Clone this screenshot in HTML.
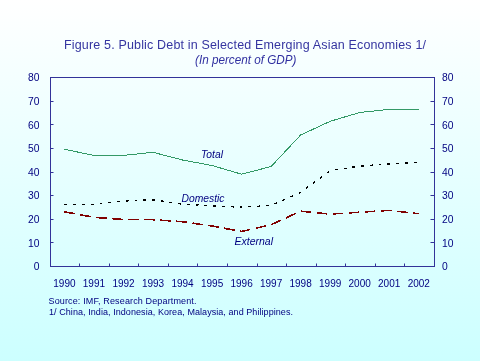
<!DOCTYPE html>
<html><head><meta charset="utf-8"><style>
html,body{margin:0;padding:0;width:480px;height:361px;overflow:hidden}
body{background:linear-gradient(to bottom,#ffffff 0%,#ccffff 100%)}
svg{display:block;position:absolute;left:0;top:0;will-change:transform}
text{font-family:"Liberation Sans",sans-serif;fill:#000080}
.yl{font-size:10.3px}
.xl{font-size:10px}
.lab{font-size:11px;font-style:italic}
.ti{font-size:12.5px;fill:#3535a0}
.sub{font-size:12px;font-style:italic;fill:#3030a0}
.fn{font-size:9px}
</style></head><body>
<svg width="480" height="361" viewBox="0 0 480 361">
<rect x="50.5" y="77.5" width="384.0" height="189.0" fill="none" stroke="#333399" stroke-width="1"/>
<path d="M50.5,242.5h3M434.5,242.5h-4M50.5,219.5h3M434.5,219.5h-4M50.5,195.5h3M434.5,195.5h-4M50.5,172.5h3M434.5,172.5h-4M50.5,148.5h3M434.5,148.5h-4M50.5,124.5h3M434.5,124.5h-4M50.5,101.5h3M434.5,101.5h-4M79.5,266.5v-3M109.5,266.5v-3M138.5,266.5v-3M168.5,266.5v-3M197.5,266.5v-3M227.5,266.5v-3M257.5,266.5v-3M286.5,266.5v-3M316.5,266.5v-3M345.5,266.5v-3M375.5,266.5v-3M404.5,266.5v-3" stroke="#333399" stroke-width="1" fill="none"/>
<text x="39.5" y="270.3" text-anchor="end" class="yl">0</text>
<text x="442" y="270.3" class="yl">0</text>
<text x="39.5" y="246.7" text-anchor="end" class="yl">10</text>
<text x="442" y="246.7" class="yl">10</text>
<text x="39.5" y="223.1" text-anchor="end" class="yl">20</text>
<text x="442" y="223.1" class="yl">20</text>
<text x="39.5" y="199.4" text-anchor="end" class="yl">30</text>
<text x="442" y="199.4" class="yl">30</text>
<text x="39.5" y="175.8" text-anchor="end" class="yl">40</text>
<text x="442" y="175.8" class="yl">40</text>
<text x="39.5" y="152.2" text-anchor="end" class="yl">50</text>
<text x="442" y="152.2" class="yl">50</text>
<text x="39.5" y="128.6" text-anchor="end" class="yl">60</text>
<text x="442" y="128.6" class="yl">60</text>
<text x="39.5" y="104.9" text-anchor="end" class="yl">70</text>
<text x="442" y="104.9" class="yl">70</text>
<text x="39.5" y="81.3" text-anchor="end" class="yl">80</text>
<text x="442" y="81.3" class="yl">80</text>
<text x="64.4" y="286.6" text-anchor="middle" class="xl">1990</text>
<text x="93.9" y="286.6" text-anchor="middle" class="xl">1991</text>
<text x="123.5" y="286.6" text-anchor="middle" class="xl">1992</text>
<text x="153.0" y="286.6" text-anchor="middle" class="xl">1993</text>
<text x="182.5" y="286.6" text-anchor="middle" class="xl">1994</text>
<text x="212.1" y="286.6" text-anchor="middle" class="xl">1995</text>
<text x="241.6" y="286.6" text-anchor="middle" class="xl">1996</text>
<text x="271.1" y="286.6" text-anchor="middle" class="xl">1997</text>
<text x="300.6" y="286.6" text-anchor="middle" class="xl">1998</text>
<text x="330.2" y="286.6" text-anchor="middle" class="xl">1999</text>
<text x="359.7" y="286.6" text-anchor="middle" class="xl">2000</text>
<text x="389.2" y="286.6" text-anchor="middle" class="xl">2001</text>
<text x="418.8" y="286.6" text-anchor="middle" class="xl">2002</text>
<polyline points="64.40,149.30 93.93,155.40 123.46,155.40 152.99,152.30 182.52,160.00 212.05,165.50 241.58,174.20 271.11,166.50 300.64,135.00 330.17,121.30 359.70,112.50 389.23,109.40 418.76,109.40" fill="none" stroke="#339966" stroke-width="1" shape-rendering="crispEdges"/>
<polyline points="64.40,204.30 93.93,204.20 123.46,201.00 152.99,199.80 182.52,204.20 212.05,205.80 241.58,207.20 271.11,205.50 300.64,192.40 330.17,170.60 359.70,166.10 389.23,163.90 418.76,162.40" fill="none" stroke="#000" stroke-width="1.4" stroke-dasharray="2.8 5.99" shape-rendering="crispEdges"/>
<polyline points="64.40,211.80 93.93,217.30 123.46,219.50 152.99,219.70 182.52,221.70 212.05,226.00 241.58,231.50 271.11,224.70 300.64,211.20 330.17,214.10 359.70,212.20 389.23,210.40 418.76,213.70" fill="none" stroke="#800000" stroke-width="1.6" stroke-dasharray="10.6 5.5" shape-rendering="crispEdges"/>
<text x="201" y="157.8" textLength="22" lengthAdjust="spacingAndGlyphs" class="lab">Total</text>
<text x="181.5" y="201.8" textLength="43" lengthAdjust="spacingAndGlyphs" class="lab">Domestic</text>
<text x="234.5" y="244.8" textLength="38.5" lengthAdjust="spacingAndGlyphs" class="lab">External</text>
<text x="64" y="49" textLength="362" lengthAdjust="spacing" class="ti">Figure 5. Public Debt in Selected Emerging Asian Economies 1/</text>
<text x="195" y="63.7" textLength="101.5" lengthAdjust="spacingAndGlyphs" class="sub">(In percent of GDP)</text>
<text x="48.5" y="303.8" textLength="148" lengthAdjust="spacing" class="fn">Source: IMF, Research Department.</text>
<text x="49" y="315.3" textLength="244" lengthAdjust="spacing" class="fn">1/ China, India, Indonesia, Korea, Malaysia, and Philippines.</text>
</svg>
</body></html>
